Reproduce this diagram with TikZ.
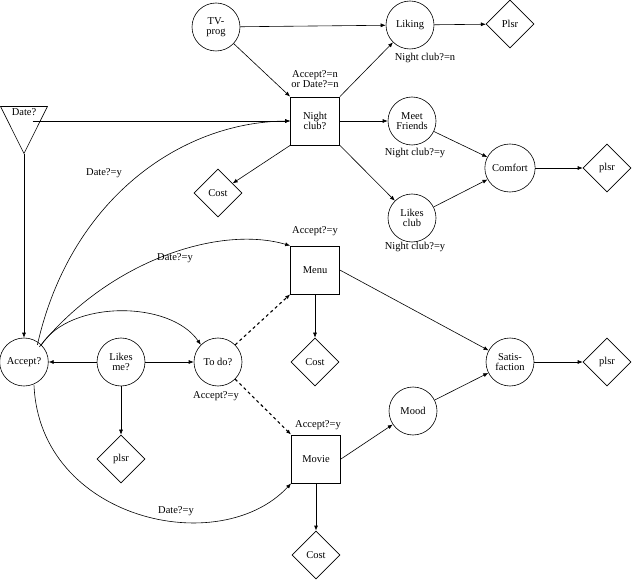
\documentclass[tikz,border=0pt]{standalone}
\usepackage{fontspec}
\setmainfont{Liberation Serif}
\usetikzlibrary{shapes.geometric,arrows.meta}
\begin{document}
\begin{tikzpicture}[x=1pt,y=-1pt,font=\fontsize{10.5}{10.5}\selectfont,line width=0.6pt,
  ch/.style={ellipse,draw,minimum width=48pt,minimum height=48pt,inner sep=0pt,align=center},
  dec/.style={rectangle,draw,minimum width=49pt,minimum height=48pt,inner sep=0pt,align=center},
  ut/.style={diamond,draw,minimum width=48pt,minimum height=48pt,inner sep=0pt,align=center},
  a/.style={-{Latex[length=5pt,width=4pt]}},
  lb/.style={inner sep=1pt,align=center}]
\useasboundingbox (0,0) rectangle (632,580);
\node[ch] (tv) at (216,27) {TV-\\prog};
\node[ch] (lik) at (410,25) {Liking};
\node[ut] (p1) at (510,24) {Plsr};
\node[dec,line width=0.9pt] (nc) at (315,121) {Night\\club?};
\node[isosceles triangle,shape border rotate=-90,draw,isosceles triangle apex angle=53,minimum height=47pt,inner sep=0pt] (date) at (24,121) {};
\node at (24,112) {Date?};
\node[ch] (mf) at (412,121) {Meet\\Friends};
\node[ch] (cf) at (510,168) {Comfort};
\node[ut] (p2) at (607,168) {plsr};
\node[ut] (c1) at (218,193) {Cost};
\node[ch] (lc) at (412,218) {Likes\\club};
\node[dec] (menu) at (315,270) {Menu};
\node[ut] (c2) at (315,362) {Cost};
\node[ch] (acc) at (24,362) {Accept?};
\node[ch] (lm) at (121,362) {Likes\\me?};
\node[ch] (td) at (218,362) {To do?};
\node[ch] (sat) at (510,362) {Satis-\\faction};
\node[ut] (p3) at (607,362) {plsr};
\node[ch] (mood) at (413,411) {Mood};
\node[dec,line width=0.9pt] (mov) at (316,459) {Movie};
\node[ut] (c3) at (316,555) {Cost};
\node[ut] (p4) at (121,459) {plsr};
\node[lb] at (315,79) {Accept?=n\\or Date?=n};
\node[lb] at (425,58) {Night club?=n};
\node[lb] at (415,153) {Night club?=y};
\node[lb] at (415,247) {Night club?=y};
\node[lb] at (315,231) {Accept?=y};
\node[lb] at (104,173) {Date?=y};
\node[lb] at (175,258) {Date?=y};
\node[lb] at (216,396) {Accept?=y};
\node[lb] at (318,425) {Accept?=y};
\node[lb] at (176,511) {Date?=y};
\draw[a] (tv) -- (lik);
\draw[a] (tv) -- (nc.north west);
\draw[a] (lik) -- (p1);
\draw[a] (nc.north east) -- (lik);
\draw[a] (nc) -- (mf);
\draw[a] (nc.south west) -- (c1);
\draw[a] (nc.south east) -- (lc);
\draw[a] (mf) -- (cf);
\draw[a] (lc) -- (cf);
\draw[a] (cf) -- (p2);
\draw[a] (date.east |- 0,121) ++(-8,0) -- (nc.west);
\draw[a] (date.apex) -- (acc);
\draw[a] (acc.north east) ++(-4,0) .. controls (70,200) and (180,122) .. (nc.west);
\draw[a] (acc.north east) ++(-2,2) .. controls (110,260) and (220,225) .. (menu.north west);
\draw[a] (acc.north east) .. controls (70,300) and (170,300) .. (td.north west);
\draw[a] (lm) -- (acc);
\draw[a] (lm) -- (td);
\draw[a] (lm) -- (p4);
\draw[a,dashed,line width=1.1pt] (td.north east) -- (menu.south west);
\draw[a,dashed,line width=1.1pt] (td.south east) -- (mov.north west);
\draw[a] (menu) -- (c2);
\draw[a] (menu.east) -- (sat);
\draw[a] (mov.east) -- (mood);
\draw[a] (mood) -- (sat);
\draw[a] (sat) -- (p3);
\draw[a,line width=1pt] (mov) -- (c3);
\draw[a] (acc.south) ++(10,-1) .. controls (40,520) and (220,560) .. (mov.south west);
\end{tikzpicture}
\end{document}
